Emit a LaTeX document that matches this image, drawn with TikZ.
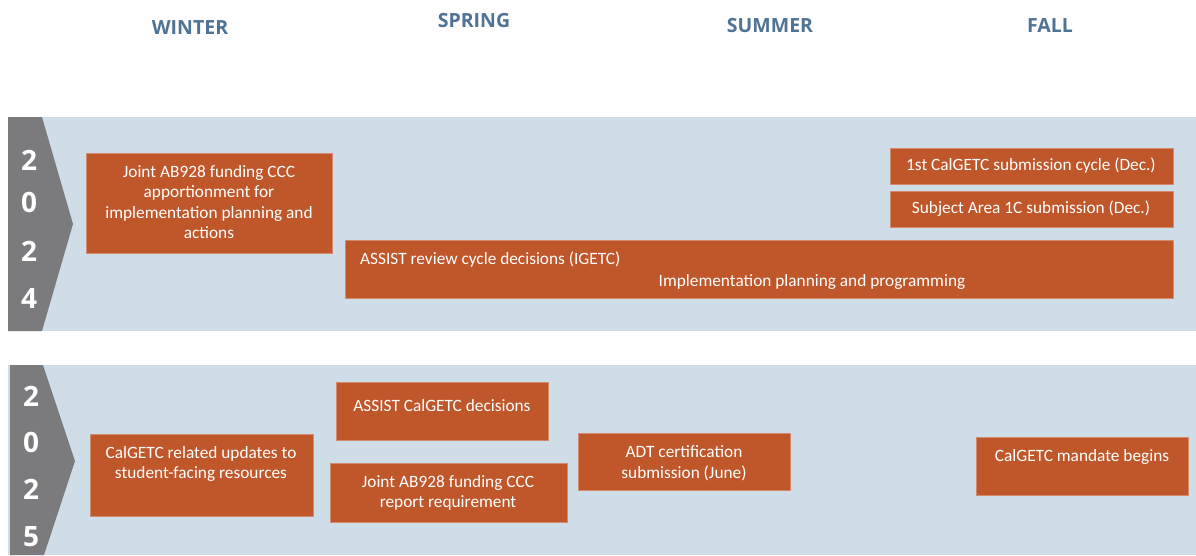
\documentclass[tikz,border=0pt]{standalone}
\usepackage{fontspec}
\setmainfont{Carlito}
\newfontfamily\hdfont{Open Sans}
\definecolor{bandc}{RGB}{207,221,233}
\definecolor{boxc}{RGB}{192,87,43}
\definecolor{chevc}{RGB}{123,123,125}
\definecolor{hdc}{RGB}{78,115,149}
\begin{document}
\begin{tikzpicture}[x=1pt,y=-1pt,
  boxr/.style={fill=boxc,draw=boxc!70!white,line width=0.6pt,inner sep=0pt,anchor=north west},
  txt/.style={text=white,font=\fontsize{17.3}{20.5}\selectfont,align=center,inner sep=0pt},
  season/.style={text=hdc,font=\hdfont\bfseries\fontsize{19.5}{22}\selectfont,inner sep=0pt},
  digit/.style={text=white,font=\hdfont\bfseries\fontsize{28}{30}\selectfont,inner sep=0pt}]
\useasboundingbox (0,0) rectangle (1196,555);
\fill[white] (0,0) rectangle (1196,555);
% season headers
\node[season] (winter) at (190,28) {WINTER};
\node[season] (spring) at (474,21) {SPRING};
\node[season] (summer) at (770,26) {SUMMER};
\node[season] (fall) at (1050,26) {FALL};
% bands
\fill[bandc] (8,117) rectangle (1196,331);
\fill[bandc] (8,365) rectangle (1196,555);
\fill[chevc] (8,117) -- (42,117) -- (73,224) -- (42,331) -- (8,331) -- cycle;
\fill[chevc] (10,365) -- (43,365) -- (75,461) -- (44,555) -- (10,555) -- cycle;
% year digits
\node[digit] (y1a) at (29,160) {2};
\node[digit] (y1b) at (29,202) {0};
\node[digit] (y1c) at (29,251) {2};
\node[digit] (y1d) at (29,298) {4};
\node[digit] (y2a) at (31,396) {2};
\node[digit] (y2b) at (31,442) {0};
\node[digit] (y2c) at (31,489) {2};
\node[digit] (y2d) at (31,537) {5};
% 2024 boxes
\node[boxr,minimum width=246pt,minimum height=100pt] (b1) at (86,153) {};
\node[txt] (t1) at (209,202) {Joint AB928 funding CCC\\apportionment for\\implementation planning and\\actions};
\node[boxr,minimum width=283pt,minimum height=36pt] (b2) at (890,148) {};
\node[txt] (t2) at (1031,166) {1st CalGETC submission cycle (Dec.)};
\node[boxr,minimum width=283pt,minimum height=36pt] (b3) at (890,191) {};
\node[txt] (t3) at (1031,209) {Subject Area 1C submission (Dec.)};
\node[boxr,minimum width=828pt,minimum height=58pt] (b4) at (345,240) {};
\node[txt,anchor=west] (t4a) at (360,260) {ASSIST review cycle decisions (IGETC)};
\node[txt] (t4b) at (812,282) {Implementation planning and programming};
% 2025 boxes
\node[boxr,minimum width=223pt,minimum height=82pt] (c1) at (90,434) {};
\node[txt] (u1) at (201,464) {CalGETC related updates to\\student-facing resources};
\node[boxr,minimum width=212pt,minimum height=58pt] (c2) at (336,382) {};
\node[txt] (u2) at (442,406) {ASSIST CalGETC decisions};
\node[boxr,minimum width=237pt,minimum height=59pt] (c3) at (330,463) {};
\node[txt] (u3) at (448,493) {Joint AB928 funding CCC\\report requirement};
\node[boxr,minimum width=212pt,minimum height=57pt] (c4) at (578,433) {};
\node[txt] (u4) at (684,463) {ADT certification\\submission (June)};
\node[boxr,minimum width=212pt,minimum height=58pt] (c5) at (976,437) {};
\node[txt] (u5) at (1082,457) {CalGETC mandate begins};
\end{tikzpicture}
\end{document}
